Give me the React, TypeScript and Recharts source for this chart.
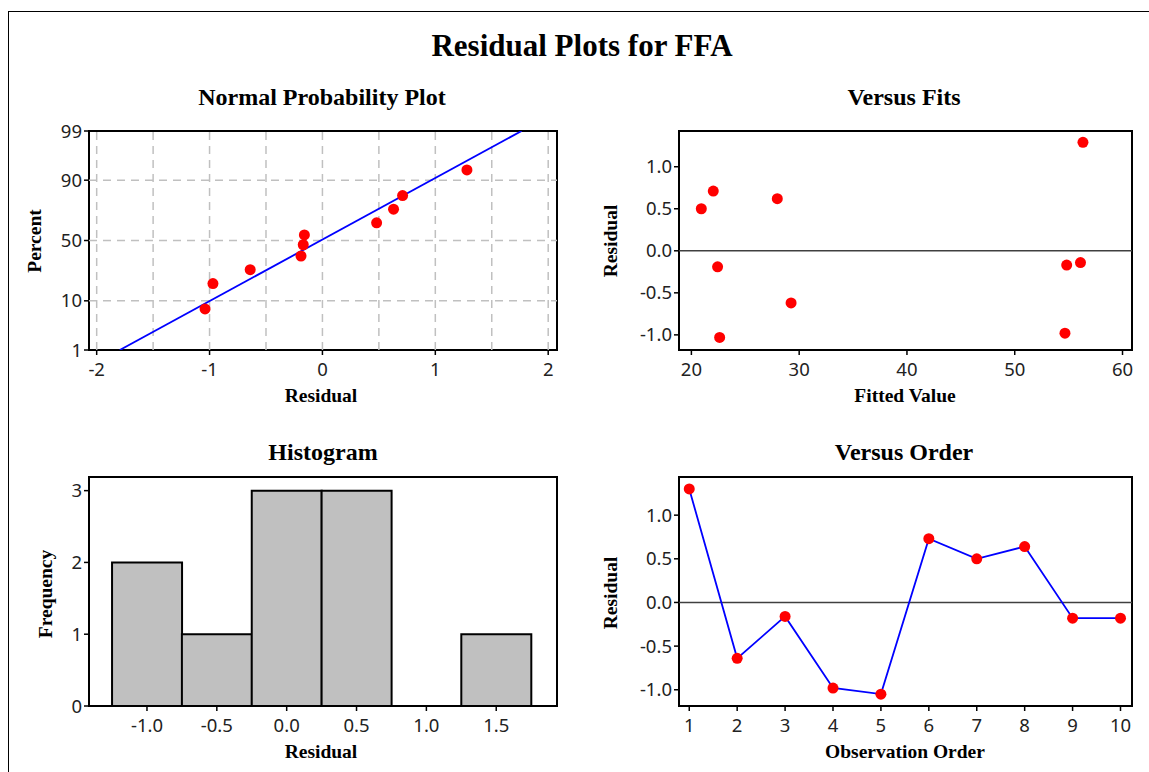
import React from "react";
import {
  Bar, BarChart, ComposedChart, Line, LineChart, ReferenceArea, ReferenceLine, Scatter, XAxis, YAxis,
} from "recharts";

// Normal probability plot: sorted residuals and their plotted percent
const probResid = [-1.04, -0.97, -0.64, -0.19, -0.17, -0.16, 0.48, 0.63, 0.71, 1.28];
const probPercent = [7.3, 18.0, 26.8, 37.1, 46.4, 54.7, 64.6, 74.7, 83.0, 93.3];
const fitLineResid = [-1.795, 1.764];
const fitLinePercent = [1, 99];
const percentTicks = [1, 10, 50, 90, 99];
const percentGrid = [10, 50, 90];
const residTicks = [-2, -1, 0, 1, 2];
const residGrid = [-2, -1.5, -1, -0.5, 0, 0.5, 1, 1.5, 2];

// Versus fits
const fittedValues = [20.92, 22.03, 22.43, 22.62, 27.97, 29.25, 54.66, 54.82, 56.1, 56.33];
const fitsResid = [0.5, 0.71, -0.19, -1.03, 0.62, -0.62, -0.98, -0.17, -0.14, 1.29];
const fittedTicks = [20, 30, 40, 50, 60];
const halfTicks = [-1, -0.5, 0, 0.5, 1];

// Histogram
const binMids = [-1.0, -0.5, 0.0, 0.5, 1.0, 1.5];
const binCounts = [2, 1, 3, 3, 0, 1];
const histXTicks = [-1, -0.5, 0, 0.5, 1, 1.5];
const freqTicks = [0, 1, 2, 3];

// Versus order
const orderIdx = [1, 2, 3, 4, 5, 6, 7, 8, 9, 10];
const orderResid = [1.3, -0.64, -0.16, -0.98, -1.05, 0.73, 0.5, 0.64, -0.18, -0.18];

// inverse normal cdf (Acklam), used for the probability axis
function probit(pct: number): number {
  const p = pct / 100;
  const a = [-39.69683028665376, 220.9460984245205, -275.9285104469687, 138.357751867269, -30.66479806614716, 2.506628277459239];
  const b = [-54.47609879822406, 161.5858368580409, -155.6989798598866, 66.80131188771972, -13.28068155288572];
  const c = [-0.007784894002430293, -0.3223964580411365, -2.400758277161838, -2.549671010229057, 4.374664141464968, 2.938163982698783];
  const d = [0.007784695709041462, 0.3224671290700398, 2.445134137142996, 3.754408661907416];
  const lo = 0.02425;
  if (p < lo) {
    const q = Math.sqrt(-2 * Math.log(p));
    return (((((c[0] * q + c[1]) * q + c[2]) * q + c[3]) * q + c[4]) * q + c[5]) / ((((d[0] * q + d[1]) * q + d[2]) * q + d[3]) * q + 1);
  }
  if (p > 1 - lo) {
    const q = Math.sqrt(-2 * Math.log(1 - p));
    return -(((((c[0] * q + c[1]) * q + c[2]) * q + c[3]) * q + c[4]) * q + c[5]) / ((((d[0] * q + d[1]) * q + d[2]) * q + d[3]) * q + 1);
  }
  const q = p - 0.5;
  const r = q * q;
  return (((((a[0] * r + a[1]) * r + a[2]) * r + a[3]) * r + a[4]) * r + a[5]) * q / (((((b[0] * r + b[1]) * r + b[2]) * r + b[3]) * r + b[4]) * r + 1);
}

const TICK = { fill: "#222", fontSize: 18.5, fontFamily: "Noto Sans" };
const TICK_LINE = { stroke: "#000", strokeWidth: 1.5 };
const RED = "#ff0000";
const BLUE = "#0000ff";
const GRID = "#c0c0c0";

const dot = (props: any) => <circle cx={props.cx} cy={props.cy} r={5.5} fill={RED} />;
const noShape = () => <g />;

const fmt1 = (v: number) => v.toFixed(1);

function Frame({ x, y }: { x: number[]; y: number[] }) {
  return (
    <ReferenceArea x1={x[0]} x2={x[1]} y1={y[0]} y2={y[1]} fill="none" stroke="#000" strokeWidth={2} ifOverflow="visible" />
  );
}

function NormalPlot() {
  const xDom = [-2.068, 2.078];
  const zTicks = percentTicks.map(probit);
  const yDom = [zTicks[0], zTicks[zTicks.length - 1]];
  const points = probResid.map((r, i) => ({ x: r, z: probit(probPercent[i]) }));
  const fit = fitLineResid.map((r, i) => ({ x: r, z: probit(fitLinePercent[i]) }));
  const label = (v: number) => {
    const i = zTicks.findIndex((t) => Math.abs(t - v) < 1e-9);
    return i >= 0 ? String(percentTicks[i]) : "";
  };
  return (
    <div style={{ position: "absolute", left: 0, top: 110 }}>
      <ComposedChart width={587} height={310} margin={{ top: 21, right: 30, bottom: 0, left: 0 }}>
        <XAxis type="number" dataKey="x" domain={xDom} allowDataOverflow ticks={residTicks} interval={0}
          height={70} tick={TICK} tickLine={TICK_LINE} tickSize={5} tickMargin={8} axisLine={false} />
        <YAxis type="number" dataKey="z" domain={yDom} allowDataOverflow ticks={zTicks} interval={0}
          tickFormatter={label} width={89} tick={TICK} tickLine={TICK_LINE} tickSize={5} tickMargin={2} axisLine={false} />
        {residGrid.map((g) => (
          <ReferenceLine key={"x" + g} x={g} stroke={GRID} strokeWidth={1.5} strokeDasharray="8 6" ifOverflow="visible" />
        ))}
        {percentGrid.map((g) => (
          <ReferenceLine key={"y" + g} y={probit(g)} stroke={GRID} strokeWidth={1.5} strokeDasharray="8 6" ifOverflow="visible" />
        ))}
        <Frame x={xDom} y={yDom} />
        <Scatter data={fit} line={{ stroke: BLUE, strokeWidth: 1.8 }} shape={noShape} isAnimationActive={false} />
        <Scatter data={points} shape={dot} isAnimationActive={false} />
      </ComposedChart>
    </div>
  );
}

function FitsPlot() {
  const xDom = [18.85, 60.88];
  const yDom = [-1.18, 1.425];
  const data = fittedValues.map((f, i) => ({ fit: f, resid: fitsResid[i] }));
  return (
    <div style={{ position: "absolute", left: 580, top: 110 }}>
      <ComposedChart width={569} height={310} margin={{ top: 21, right: 17, bottom: 0, left: 0 }}>
        <XAxis type="number" dataKey="fit" domain={xDom} allowDataOverflow ticks={fittedTicks} interval={0}
          height={70} tick={TICK} tickLine={TICK_LINE} tickSize={5} tickMargin={8} axisLine={false} />
        <YAxis type="number" dataKey="resid" domain={yDom} allowDataOverflow ticks={halfTicks} interval={0}
          tickFormatter={fmt1} width={99} tick={TICK} tickLine={TICK_LINE} tickSize={5} tickMargin={2} axisLine={false} />
        <ReferenceLine y={0} stroke="#404040" strokeWidth={1.5} />
        <Frame x={xDom} y={yDom} />
        <Scatter data={data} shape={dot} isAnimationActive={false} />
      </ComposedChart>
    </div>
  );
}

function HistPlot() {
  const xDom = [-1.415, 1.935];
  const yDom = [0, 3.19];
  const data = binMids.map((m, i) => ({ mid: m, count: binCounts[i] }));
  return (
    <div style={{ position: "absolute", left: 0, top: 460 }}>
      <BarChart width={587} height={312} data={data} barCategoryGap={0} barGap={0}
        margin={{ top: 17, right: 30, bottom: 0, left: 0 }}>
        <XAxis type="number" dataKey="mid" domain={xDom} allowDataOverflow ticks={histXTicks} interval={0}
          tickFormatter={fmt1} height={66} tick={TICK} tickLine={TICK_LINE} tickSize={5} tickMargin={8} axisLine={false} />
        <YAxis type="number" domain={yDom} allowDataOverflow ticks={freqTicks} interval={0}
          width={89} tick={TICK} tickLine={TICK_LINE} tickSize={5} tickMargin={2} axisLine={false} />
        <Bar dataKey="count" fill="#c0c0c0" stroke="#000" strokeWidth={2} isAnimationActive={false} />
        <Frame x={xDom} y={yDom} />
      </BarChart>
    </div>
  );
}

function OrderPlot() {
  const xDom = [0.786, 10.24];
  const yDom = [-1.186, 1.437];
  const data = orderIdx.map((o, i) => ({ obs: o, resid: orderResid[i] }));
  return (
    <div style={{ position: "absolute", left: 580, top: 460 }}>
      <LineChart width={569} height={312} data={data} margin={{ top: 17, right: 17, bottom: 0, left: 0 }}>
        <XAxis type="number" dataKey="obs" domain={xDom} allowDataOverflow ticks={orderIdx} interval={0}
          height={66} tick={TICK} tickLine={TICK_LINE} tickSize={5} tickMargin={8} axisLine={false} />
        <YAxis type="number" domain={yDom} allowDataOverflow ticks={halfTicks} interval={0}
          tickFormatter={fmt1} width={99} tick={TICK} tickLine={TICK_LINE} tickSize={5} tickMargin={2} axisLine={false} />
        <ReferenceLine y={0} stroke="#404040" strokeWidth={1.5} />
        <Frame x={xDom} y={yDom} />
        <Line dataKey="resid" stroke={BLUE} strokeWidth={1.8} isAnimationActive={false}
          dot={{ r: 5.5, fill: RED, stroke: "none" }} activeDot={false} />
      </LineChart>
    </div>
  );
}

const serif = "Liberation Serif, Times New Roman, serif";

function Titles() {
  const axisTitle = { fontFamily: serif, fontWeight: 700, fontSize: 19.5, fill: "#000" } as const;
  const panelTitle = { fontFamily: serif, fontWeight: 700, fontSize: 24, fill: "#000" } as const;
  return (
    <svg width={1149} height={772} style={{ position: "absolute", left: 0, top: 0, pointerEvents: "none" }}>
      <text x={582} y={56} textAnchor="middle" style={{ fontFamily: serif, fontWeight: 700, fontSize: 31, fill: "#000" }}>
        Residual Plots for FFA
      </text>
      <text x={322} y={105} textAnchor="middle" style={panelTitle}>Normal Probability Plot</text>
      <text x={904} y={105} textAnchor="middle" style={panelTitle}>Versus Fits</text>
      <text x={323} y={460} textAnchor="middle" style={panelTitle}>Histogram</text>
      <text x={904} y={460} textAnchor="middle" style={panelTitle}>Versus Order</text>

      <text x={321} y={402} textAnchor="middle" style={axisTitle}>Residual</text>
      <text x={905} y={402} textAnchor="middle" style={axisTitle}>Fitted Value</text>
      <text x={321} y={758} textAnchor="middle" style={axisTitle}>Residual</text>
      <text x={905} y={758} textAnchor="middle" style={axisTitle}>Observation Order</text>

      <text transform="translate(41,241) rotate(-90)" textAnchor="middle" style={axisTitle}>Percent</text>
      <text transform="translate(617,241) rotate(-90)" textAnchor="middle" style={axisTitle}>Residual</text>
      <text transform="translate(52,594) rotate(-90)" textAnchor="middle" style={axisTitle}>Frequency</text>
      <text transform="translate(617,593) rotate(-90)" textAnchor="middle" style={axisTitle}>Residual</text>
    </svg>
  );
}

export default function App() {
  return (
    <div style={{ position: "absolute", left: 0, top: 0, width: 1149, height: 772, background: "#fff", overflow: "hidden" }}>
      <div style={{ position: "absolute", left: 8, top: 11, right: 0, bottom: 0, borderTop: "1.5px solid #000", borderLeft: "1.5px solid #000" }} />
      <NormalPlot />
      <FitsPlot />
      <HistPlot />
      <OrderPlot />
      <Titles />
    </div>
  );
}
